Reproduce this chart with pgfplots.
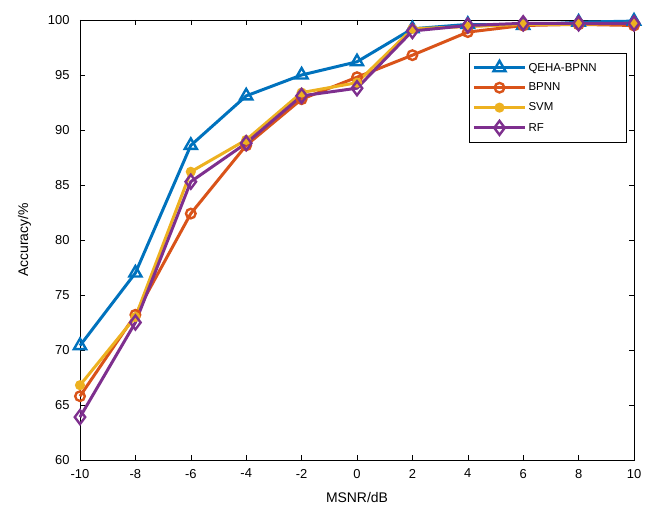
\documentclass[border=0pt]{standalone}
\usepackage{pgfplots}
\pgfplotsset{compat=1.18}
\usepackage{fontspec}
\setmainfont{Liberation Sans}
\definecolor{mblue}{rgb}{0,0.447,0.741}
\definecolor{morange}{rgb}{0.85,0.325,0.098}
\definecolor{myellow}{rgb}{0.929,0.694,0.125}
\definecolor{mpurple}{rgb}{0.494,0.184,0.556}
\begin{document}
\begin{tikzpicture}
\begin{axis}[
  scale only axis,
  width=554bp, height=440bp,
  xmin=-10, xmax=10, ymin=60, ymax=100,
  xtick={-10,-8,...,10}, ytick={60,65,...,100},
  tick align=inside, major tick length=5bp,
  axis line style={line width=0.8pt},
  tick style={line width=0.6pt,black},
  tick label style={font=\fontsize{13}{15}\selectfont},
  yticklabel style={xshift=-7bp},
  xticklabel style={yshift=-5.5bp},
  /pgf/number format/assume math mode=true,
  xlabel={MSNR/dB}, ylabel={Accuracy/\%},
  label style={font=\fontsize{14}{16}\selectfont},
  xlabel style={yshift=-7bp},
  ylabel style={yshift=10bp},
  legend style={at={(0.987,0.925)}, anchor=north east, draw=black, line width=0.6pt,
    font=\fontsize{11.5}{13}\selectfont, row sep=6.5bp, inner xsep=3bp, inner ysep=7.5bp,
    nodes={text width=93bp}},
  legend cell align=left,
  legend image code/.code={\draw[mark repeat=2,mark phase=2] plot coordinates {(0cm,0cm)(0.9cm,0cm)(1.8cm,0cm)};},
  clip=false,
]
\addplot[color=mblue, line width=3pt, mark=triangle, mark size=7bp, mark options={fill=white,solid,line width=2.4pt}] coordinates {
(-10,70.4)(-8,77.0)(-6,88.6)(-4,93.1)(-2,95.0)(0,96.2)(2,99.2)(4,99.6)(6,99.5)(8,99.8)(10,99.9)};
\addlegendentry{QEHA-BPNN}
\addplot[color=morange, line width=3pt, mark=o, mark size=4.8bp, mark options={fill=white,solid,line width=2.4pt}] coordinates {
(-10,65.8)(-8,73.2)(-6,82.4)(-4,88.6)(-2,92.8)(0,94.8)(2,96.8)(4,98.9)(6,99.5)(8,99.6)(10,99.5)};
\addlegendentry{BPNN}
\addplot[color=myellow, line width=3pt, mark=*, mark size=4.3bp, mark options={solid,line width=1.5pt}] coordinates {
(-10,66.8)(-8,73.0)(-6,86.2)(-4,89.1)(-2,93.4)(0,94.3)(2,99.2)(4,99.4)(6,99.6)(8,99.6)(10,99.7)};
\addlegendentry{SVM}
\addplot[color=mpurple, line width=3pt, mark=diamond, mark size=7bp, mark options={fill=white,solid,line width=2.4pt}] coordinates {
(-10,63.9)(-8,72.5)(-6,85.3)(-4,88.8)(-2,93.1)(0,93.8)(2,99.0)(4,99.5)(6,99.7)(8,99.7)(10,99.7)};
\addlegendentry{RF}
\end{axis}
\path ([shift={(-80bp,-52bp)}]current axis.south west) rectangle ([shift={(19bp,20bp)}]current axis.north east);
\end{tikzpicture}
\end{document}
